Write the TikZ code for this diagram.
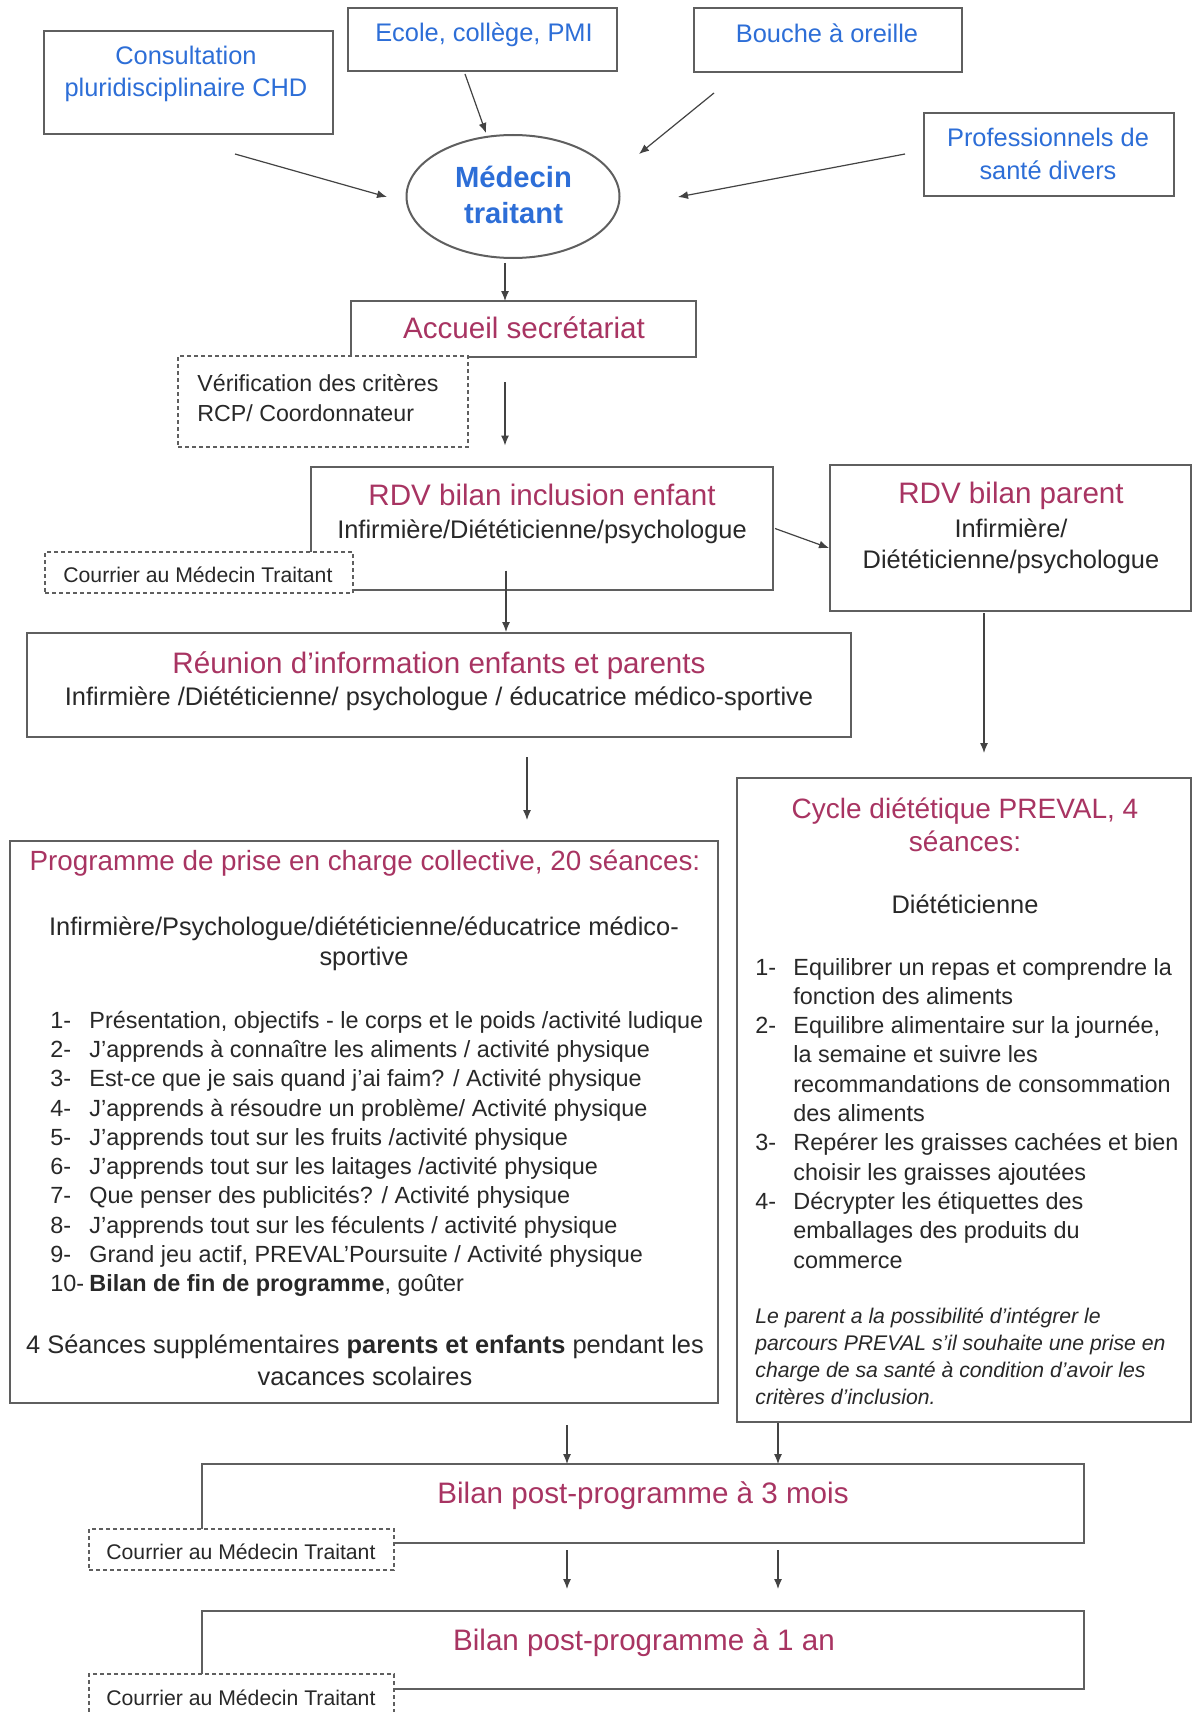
\documentclass[tikz,border=0pt]{standalone}
\usepackage{fontspec}
\setmainfont{Liberation Sans}
\usetikzlibrary{arrows.meta,fit,shapes.geometric}
\definecolor{lineC}{RGB}{95,95,95}
\definecolor{blueC}{RGB}{45,110,215}
\definecolor{pinkC}{RGB}{168,52,98}
\definecolor{txtC}{RGB}{40,40,40}
\begin{document}
\begin{tikzpicture}[x=0.5pt,y=-0.5pt,
  box/.style={draw=lineC,line width=1pt,inner sep=0pt},
  dbox/.style={draw=lineC,line width=0.8pt,dash pattern=on 2pt off 1.5pt,fill=white,inner sep=0pt},
  arr/.style={draw=lineC!70!black,line width=0.6pt,-{Latex[length=5pt,width=4pt]}},
  txt/.style={inner sep=0pt,anchor=base,text=txtC},
  bluetxt/.style={txt,text=blueC,align=center,font=\fontsize{12.7}{16.3}\selectfont},
  ttl/.style={txt,text=pinkC,align=center,font=\fontsize{14.8}{17}\selectfont},
  sub/.style={txt,align=center,font=\fontsize{12.7}{15.5}\selectfont},
  body/.style={txt,anchor=base west,align=left,font=\fontsize{11.7}{14.62}\selectfont},
  small/.style={txt,anchor=base west,align=left,font=\fontsize{10.6}{13.35}\selectfont}
]
\useasboundingbox (0,0) rectangle (1193,1712);
\fill[white] (0,0) rectangle (1193,1712);
\clip (0,0) rectangle (1193,1712);

% boxes
\node[box,fit={(44,31) (333,134)}] (cons) {};
\node[box,fit={(348,8) (617,71)}] (ecole) {};
\node[box,fit={(694,8) (962,72)}] (bouche) {};
\node[box,fit={(924,113) (1174,196)}] (prof) {};
\node[box,ellipse,minimum width=106.5pt,minimum height=61.5pt] (med) at (513,196.5) {};
\node[box,fit={(351,301) (696,357)}] (acc) {};
\node[dbox,fit={(178,356) (468,447)}] (verif) {};
\node[box,fit={(311,467) (773,590)}] (rdvE) {};
\node[dbox,fit={(45,552) (353,593)}] (cour1) {};
\node[box,fit={(830,465) (1191,611)}] (rdvP) {};
\node[box,fit={(27,633) (851,737)}] (reu) {};
\node[box,fit={(10,841) (718,1403)}] (prog) {};
\node[box,fit={(737,778) (1191,1422)}] (cyc) {};
\node[box,fit={(202,1464) (1084,1543)}] (bt) {};
\node[dbox,fit={(89,1529) (394,1570)}] (cour2) {};
\node[box,fit={(202,1611) (1084,1689)}] (bu) {};
\node[dbox,fit={(89,1674) (394,1730)}] (cour3) {};

% connectors
\draw[arr] ([shift={(46.5,71.5)}]cons.center) -- ([shift={(-126,0.5)}]med.center);
\draw[arr] ([shift={(-17.5,34.5)}]ecole.center) -- ([shift={(-27,-63.5)}]med.center);
\draw[arr] ([shift={(-114,53)}]bouche.center) -- ([shift={(126,-42.5)}]med.center);
\draw[arr] ([shift={(-144,-0.5)}]prof.center) -- ([shift={(165,0.5)}]med.center);
\draw[arr] ([shift={(-8,66.5)}]med.center) -- ([shift={(-18.5,-28)}]acc.center);
\draw[arr] ([shift={(-18.5,53)}]acc.center) -- ([shift={(-37,-83)}]rdvE.center);
\draw[arr] ([shift={(233,0)}]rdvE.center) -- ([shift={(-181.5,10)}]rdvP.center);
\draw[arr] ([shift={(-36,42)}]rdvE.center) -- ([shift={(67,-53)}]reu.center);
\draw[arr] ([shift={(88,72)}]reu.center) -- ([shift={(163,-302)}]prog.center);
\draw[arr] ([shift={(-26.5,75)}]rdvP.center) -- ([shift={(20,-347)}]cyc.center);
\draw[arr] ([shift={(203,303)}]prog.center) -- ([shift={(-76,-39.5)}]bt.center);
\draw[arr] ([shift={(-186,323)}]cyc.center) -- ([shift={(135,-39.5)}]bt.center);
\draw[arr] ([shift={(-76,46.5)}]bt.center) -- ([shift={(-76,-61)}]bu.center);
\draw[arr] ([shift={(135,46.5)}]bt.center) -- ([shift={(135,-61)}]bu.center);

% texts (multi-line nodes are placed at the baseline of their last line)
\node[bluetxt] (consT) at (186,97) {Consultation\\pluridisciplinaire CHD};
\node[bluetxt] (ecoleT) at (484,42) {Ecole, collège, PMI};
\node[bluetxt] (boucheT) at (827,43) {Bouche à oreille};
\node[bluetxt,font=\fontsize{12.7}{16.5}\selectfont] (profT) at (1048,180) {Professionnels de\\santé divers};
\node[bluetxt,font=\fontsize{14.6}{18}\selectfont\bfseries] (medT) at (513.5,224) {Médecin\\traitant};
\node[ttl] (accT) at (524,338) {Accueil secrétariat};
\node[body,font=\fontsize{11.6}{14.6}\selectfont] (verifT) at (197,421) {Vérification des critères\\RCP/ Coordonnateur};
\node[ttl] (rdvET) at (542,505) {RDV bilan inclusion enfant};
\node[sub] (rdvES) at (542,538) {Infirmière/Diététicienne/psychologue};
\node[small] (cour1T) at (63,582) {Courrier au Médecin Traitant};
\node[ttl] (rdvPT) at (1011,503) {RDV bilan parent};
\node[sub] (rdvPS) at (1011,568) {Infirmière/\\Diététicienne/psychologue};
\node[ttl] (reuT) at (439,673) {Réunion d'information enfants et parents};
\node[sub] (reuS) at (439,705) {Infirmière /Diététicienne/ psychologue / éducatrice médico-sportive};
\node[ttl,font=\fontsize{13.9}{17}\selectfont] (progT) at (365,870) {Programme de prise en charge collective, 20 séances:};
\node[sub,font=\fontsize{12.7}{15}\selectfont] (progS) at (364,965) {Infirmière/Psychologue/diététicienne/éducatrice médico-\\sportive};
\node[body] (progN) at (50,1291.5) {1-\\2-\\3-\\4-\\5-\\6-\\7-\\8-\\9-\\10-};
\node[body] (progL) at (89,1291.5) {Présentation, objectifs - le corps et le poids /activité ludique\\
J'apprends à connaître les aliments / activité physique\\
Est-ce que je sais quand j'ai faim? / Activité physique\\
J'apprends à résoudre un problème/ Activité physique\\
J'apprends tout sur les fruits /activité physique\\
J'apprends tout sur les laitages /activité physique\\
Que penser des publicités? / Activité physique\\
J'apprends tout sur les féculents / activité physique\\
Grand jeu actif, PREVAL'Poursuite / Activité physique\\
\textbf{Bilan de fin de programme}, goûter};
\node[sub,font=\fontsize{12.7}{16}\selectfont] (progX) at (365,1385) {4 Séances supplémentaires \textbf{parents et enfants} pendant les\\vacances scolaires};
\node[ttl,font=\fontsize{14}{16.5}\selectfont] (cycT) at (965,851) {Cycle diététique PREVAL, 4\\séances:};
\node[sub] (cycS) at (965,913) {Diététicienne};
\node[body] (cycN1) at (755,975) {1-};
\node[body] (cycN2) at (755,1033.6) {2-};
\node[body] (cycN3) at (755,1150.8) {3-};
\node[body] (cycN4) at (755,1209.4) {4-};
\node[body,font=\fontsize{11.7}{14.65}\selectfont] (cycL) at (793,1268) {Equilibrer un repas et comprendre la\\
fonction des aliments\\
Equilibre alimentaire sur la journée,\\
la semaine et suivre les\\
recommandations de consommation\\
des aliments\\
Repérer les graisses cachées et bien\\
choisir les graisses ajoutées\\
Décrypter les étiquettes des\\
emballages des produits du\\
commerce};
\node[small,font=\fontsize{10.6}{13.35}\selectfont\itshape] (cycI) at (755,1404) {Le parent a la possibilité d'intégrer le\\
parcours PREVAL s'il souhaite une prise en\\
charge de sa santé à condition d'avoir les\\
critères d'inclusion.};
\node[ttl] (btT) at (643,1503) {Bilan post-programme à 3 mois};
\node[small] (cour2T) at (106,1559) {Courrier au Médecin Traitant};
\node[ttl] (buT) at (644,1650) {Bilan post-programme à 1 an};
\node[small] (cour3T) at (106,1705) {Courrier au Médecin Traitant};
\end{tikzpicture}
\end{document}
